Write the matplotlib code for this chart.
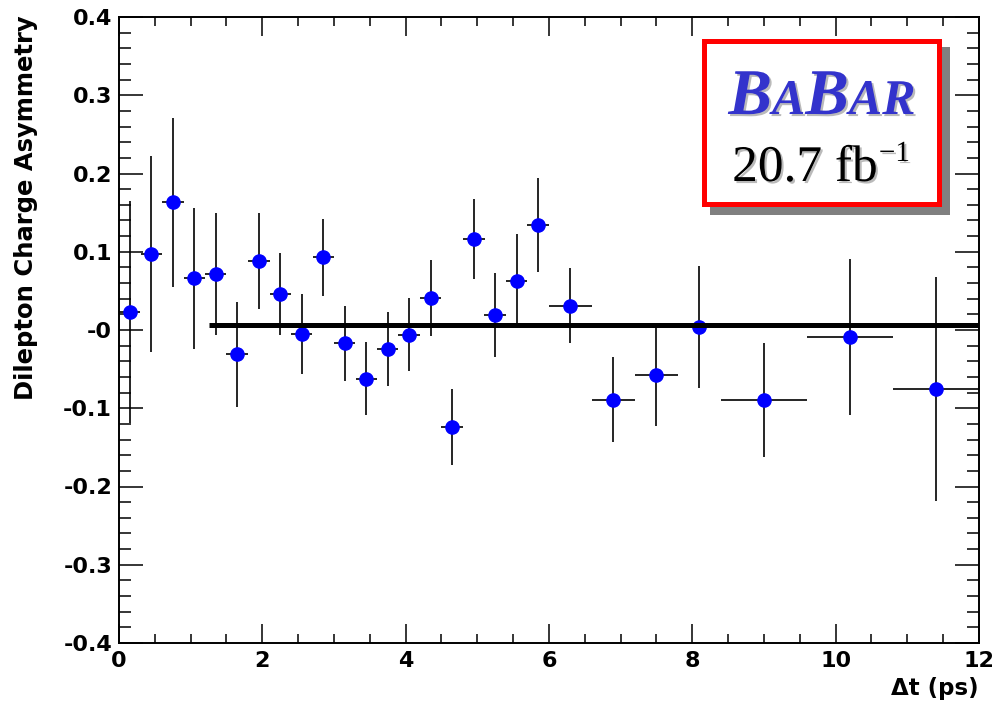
import matplotlib
matplotlib.use("Agg")
import matplotlib.pyplot as plt
import matplotlib.patheffects as pe
from matplotlib.patches import Rectangle
from matplotlib.ticker import MultipleLocator

# delta t bin centres and half widths (ps)
dt = [0.15, 0.45, 0.75, 1.05, 1.35, 1.65, 1.95, 2.25, 2.55, 2.85,
      3.15, 3.45, 3.75, 4.05, 4.35, 4.65, 4.95, 5.25, 5.55, 5.85,
      6.3, 6.9, 7.5, 8.1, 9.0, 10.2, 11.4]
dt_err = [0.15, 0.15, 0.15, 0.15, 0.15, 0.15, 0.15, 0.15, 0.15, 0.15,
          0.15, 0.15, 0.15, 0.15, 0.15, 0.15, 0.15, 0.15, 0.15, 0.15,
          0.3, 0.3, 0.3, 0.3, 0.6, 0.6, 0.6]

# dilepton charge asymmetry and its error
asym = [0.023, 0.097, 0.163, 0.066, 0.072, -0.031, 0.088, 0.046, -0.005, 0.093,
        -0.017, -0.062, -0.024, -0.006, 0.041, -0.124, 0.116, 0.019, 0.063, 0.134,
        0.031, -0.089, -0.058, 0.004, -0.089, -0.009, -0.075]
asym_err = [0.142, 0.125, 0.108, 0.090, 0.078, 0.067, 0.061, 0.053, 0.051, 0.049,
            0.048, 0.047, 0.047, 0.047, 0.049, 0.049, 0.051, 0.054, 0.060, 0.060,
            0.048, 0.054, 0.065, 0.078, 0.073, 0.100, 0.143]

# fitted constant
fit_x = [1.25, 12.0]
fit_y = [0.0065, 0.0065]

xticks = [0, 2, 4, 6, 8, 10, 12]
yticks = [-0.4, -0.3, -0.2, -0.1, 0.0, 0.1, 0.2, 0.3, 0.4]
ytick_labels = ["-0.4", "-0.3", "-0.2", "-0.1", "-0", "0.1", "0.2", "0.3", "0.4"]

plt.rcParams["font.family"] = "DejaVu Sans"
plt.rcParams["font.weight"] = "bold"

W, H = 995, 705
fig = plt.figure(figsize=(W / 100, H / 100), dpi=100)
ax = fig.add_axes([119 / W, 1 - 643 / H, 860 / W, 626 / H])

ax.errorbar(dt, asym, xerr=dt_err, yerr=asym_err, fmt="o", ms=9.5,
            mfc="blue", mec="blue", ecolor="black", elinewidth=1.2,
            capsize=0, zorder=3)
ax.plot(fit_x, fit_y, color="black", lw=3.6, solid_capstyle="butt", zorder=4)

ax.set_xlim(0, 12)
ax.set_ylim(-0.4, 0.4)
ax.set_xticks(xticks)
ax.set_yticks(yticks)
ax.set_yticklabels(ytick_labels)
ax.xaxis.set_minor_locator(MultipleLocator(0.5))
ax.yaxis.set_minor_locator(MultipleLocator(0.02))
ax.tick_params(which="both", direction="in", top=True, right=True,
               width=1.1, labelsize=16, colors="black")
ax.tick_params(axis="x", which="major", length=13.7, pad=5.5)
ax.tick_params(axis="x", which="minor", length=6.8)
ax.tick_params(axis="y", which="major", length=17, pad=5)
ax.tick_params(axis="y", which="minor", length=8.6)
for s in ax.spines.values():
    s.set_linewidth(1.4)

ax.set_xlabel("Δt (ps)", fontsize=16.5, fontweight="bold", loc="right")
ax.xaxis.set_label_coords(0.999, -0.054)
ax.set_ylabel("Dilepton Charge Asymmetry", fontsize=17.5, fontweight="bold", loc="top")
ax.yaxis.set_label_coords(-0.094, 1.003)

# BaBar box with drop shadow
fig.add_artist(Rectangle((710 / W, 1 - 215 / H), 240 / W, 168 / H,
                         transform=fig.transFigure, facecolor="#808080",
                         edgecolor="none", zorder=5))
fig.add_artist(Rectangle((704.5 / W, 1 - 203.5 / H), 235 / W, 163 / H,
                         transform=fig.transFigure, facecolor="white",
                         edgecolor="#ff0000", lw=3.6, zorder=6))

shadow = [pe.withSimplePatchShadow(offset=(1.5, -1.5), shadow_rgbFace="0.55", alpha=0.6)]

logo = [("B", 47), ("A", 36), ("B", 47), ("A", 36), ("R", 36)]
letters = []
for ch, size in logo:
    t = fig.text(0, 1 - 114 / H, ch, fontsize=size, family="Liberation Serif",
                 weight="bold", style="italic", color="#3333cc",
                 ha="left", va="baseline", zorder=7, path_effects=shadow)
    letters.append(t)

lumi = fig.text(0, 1 - 181 / H, "20.7 fb", fontsize=37,
                family="Liberation Serif", weight="normal", color="black",
                ha="left", va="baseline", zorder=7, path_effects=shadow)
sup = fig.text(0, 1 - 161 / H, "\u22121", fontsize=21,
               family="Liberation Serif", weight="normal", color="black",
               ha="left", va="baseline", zorder=7, path_effects=shadow)

fig.canvas.draw()
widths = [t.get_window_extent().width for t in letters]
x = 822 - sum(widths) / 2
for t, w in zip(letters, widths):
    t.set_x(x / W)
    x += w

w_main = lumi.get_window_extent().width
w_sup = sup.get_window_extent().width
x = 821 - (w_main + w_sup + 1) / 2
lumi.set_x(x / W)
sup.set_x((x + w_main + 1) / W)

fig.savefig("out.png", dpi=100)
